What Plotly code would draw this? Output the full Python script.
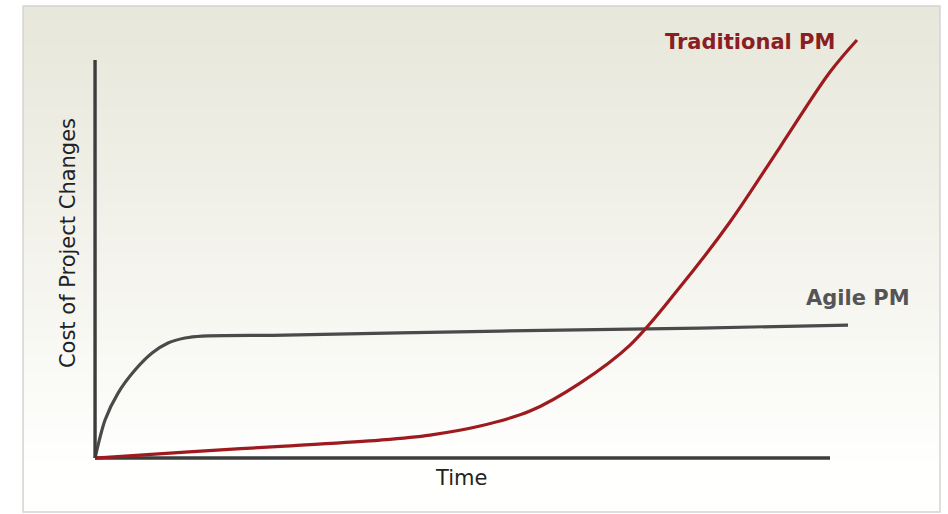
import plotly.graph_objects as go

# ---- data (time units 0..10, cost units 0..10) ----
agile_time = [0, 0.136, 0.313, 0.544, 0.776, 0.993, 1.224, 1.456, 2.585, 5.51, 8.231, 10.245]
agile_cost = [0, 0.955, 1.633, 2.211, 2.638, 2.889, 3.015, 3.065, 3.09, 3.19, 3.266, 3.342]

trad_time = [0, 1.224, 2.585, 3.878, 4.558, 5.238, 5.918, 6.599, 7.279, 7.959, 8.639, 9.320, 10.0, 10.367]
trad_cost = [0, 0.151, 0.302, 0.452, 0.578, 0.804, 1.181, 1.884, 2.839, 4.296, 5.930, 7.814, 9.698, 10.503]

series_labels = ["Agile PM", "Traditional PM"]
x_title = "Time"
y_title = "Cost of Project Changes"

W, H = 948, 514
UX, UY = 73.5, 39.8          # pixels per data unit
OX, OY = 95, 458             # pixel position of data origin
XPAD, YPAD = 0.3, 0.3
ML = OX - XPAD * UX
MB = (H - OY) - YPAD * UY
MR, MT = 68, 30
PW, PH = W - ML - MR, H - MT - MB
X_MAX = (W - MR - OX) / UX
Y_MAX = (OY - MT) / UY

def px2paper_x(px):
    return (px - ML) / PW

def py2paper_y(py):
    return (H - MB - py) / PH

fig = go.Figure()

fig.add_trace(go.Scatter(x=agile_time, y=agile_cost, mode="lines",
                         line=dict(color="#4a4a4a", width=3.2, shape="spline", smoothing=0.8),
                         name=series_labels[0], hoverinfo="skip"))
fig.add_trace(go.Scatter(x=trad_time, y=trad_cost, mode="lines",
                         line=dict(color="#9e1a1e", width=3.2, shape="spline", smoothing=1.0),
                         name=series_labels[1], hoverinfo="skip"))

shapes = []
# gradient background bands inside the frame
top_px, bot_px, left_px, right_px = 6, 512, 23, 940
n = 80
c0 = (232, 231, 219)
c1 = (255, 255, 254)
for i in range(n):
    y0 = top_px + (bot_px - top_px) * i / n
    y1 = top_px + (bot_px - top_px) * (i + 1) / n
    f = min(1.0, (i + 0.5) / n / 0.92)
    f = f ** 1.1
    col = tuple(int(round(c0[k] + (c1[k] - c0[k]) * f)) for k in range(3))
    shapes.append(dict(type="rect", xref="paper", yref="paper",
                       x0=px2paper_x(left_px), x1=px2paper_x(right_px),
                       y0=py2paper_y(y1) - 0.002, y1=py2paper_y(y0),
                       fillcolor="rgb(%d,%d,%d)" % col, line=dict(width=0), layer="below"))
# frame
shapes.append(dict(type="rect", xref="paper", yref="paper",
                   x0=px2paper_x(left_px), x1=px2paper_x(right_px),
                   y0=py2paper_y(bot_px), y1=py2paper_y(top_px),
                   line=dict(color="#d4d4d0", width=1.5), layer="below"))
# axes lines
shapes.append(dict(type="line", xref="x", yref="y", x0=0, x1=0, y0=0, y1=10,
                   line=dict(color="#3c3c3c", width=3.4), layer="above"))
shapes.append(dict(type="line", xref="x", yref="y", x0=0, x1=10, y0=0, y1=0,
                   line=dict(color="#3c3c3c", width=3.4), layer="below"))

annotations = [
    dict(x=trad_time[-1] - 1.46, y=trad_cost[-1] - 0.05, xref="x", yref="y", text="<b>" + series_labels[1] + "</b>",
         showarrow=False, font=dict(family="DejaVu Sans", size=21, color="#8a1e22"), xanchor="center", yanchor="middle"),
    dict(x=agile_time[-1] + 0.13, y=agile_cost[-1] + 0.68, xref="x", yref="y", text="<b>" + series_labels[0] + "</b>",
         showarrow=False, font=dict(family="DejaVu Sans", size=21, color="#555555"), xanchor="center", yanchor="middle"),
    dict(x=px2paper_x(461), y=py2paper_y(478), xref="paper", yref="paper", text=x_title, showarrow=False,
         font=dict(family="DejaVu Sans", size=21, color="#222222"), xanchor="center", yanchor="middle"),
    dict(x=px2paper_x(68), y=py2paper_y(243), xref="paper", yref="paper", text=y_title, showarrow=False,
         textangle=-90,
         font=dict(family="DejaVu Sans", size=21, color="#222222"), xanchor="center", yanchor="middle"),
]

fig.update_layout(
    width=W, height=H,
    margin=dict(l=ML, r=MR, t=MT, b=MB, pad=0),
    paper_bgcolor="white", plot_bgcolor="rgba(0,0,0,0)",
    showlegend=False,
    shapes=shapes, annotations=annotations,
    xaxis=dict(range=[-XPAD, X_MAX], visible=False, fixedrange=True),
    yaxis=dict(range=[-YPAD, Y_MAX], visible=False, fixedrange=True),
)

fig.write_html("out.html", config={"displayModeBar": False})
